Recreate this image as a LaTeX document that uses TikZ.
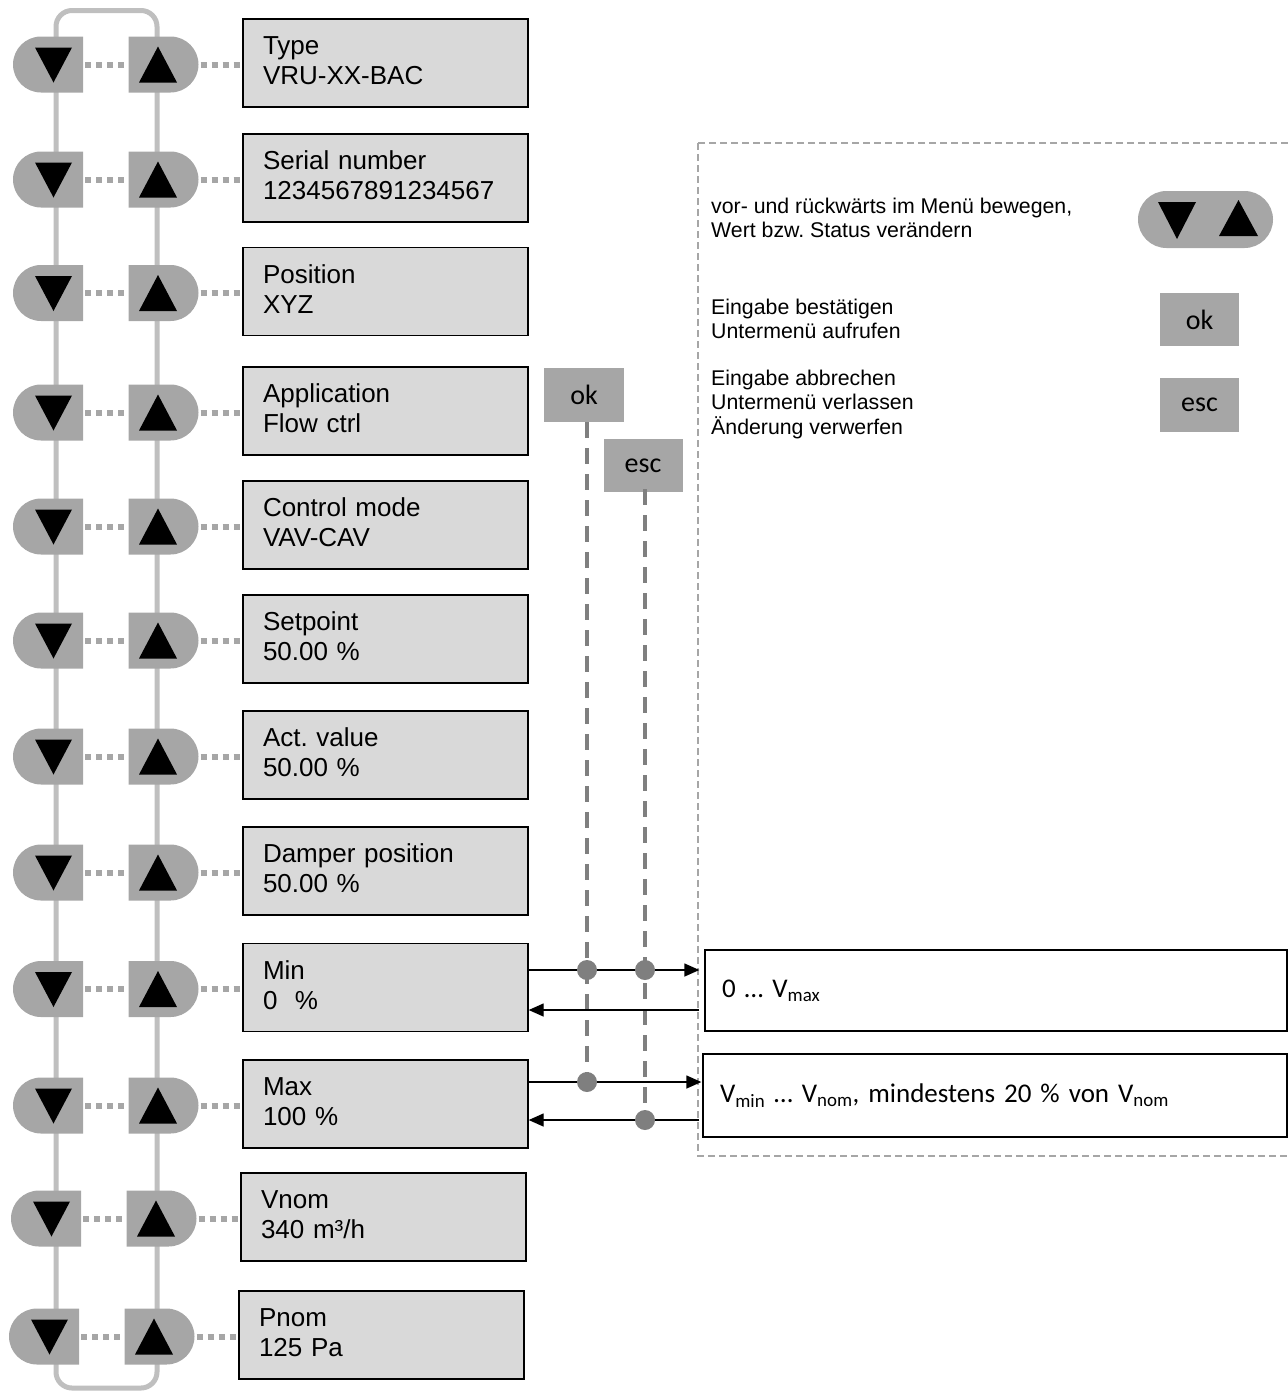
\documentclass[tikz,border=0pt]{standalone}
\usepackage{fontspec}
\setmainfont{Liberation Sans}
\newfontfamily\calib{Carlito}
\usetikzlibrary{shapes.misc,arrows.meta,calc}
\definecolor{btngray}{HTML}{A6A6A6}
\definecolor{boxgray}{HTML}{D9D9D9}
\definecolor{loopgray}{HTML}{BFBFBF}
\definecolor{midgray}{HTML}{7F7F7F}
\frenchspacing
\begin{document}
\begin{tikzpicture}[x=1pt,y=-1pt,
  btnL/.style={rounded rectangle, rounded rectangle right arc=none, fill=btngray,
    minimum width=70pt, minimum height=56pt, inner sep=0pt},
  btnR/.style={rounded rectangle, rounded rectangle left arc=none, fill=btngray,
    minimum width=70pt, minimum height=56pt, inner sep=0pt},
  pill/.style={rounded rectangle, fill=btngray, minimum width=135pt, minimum height=57pt, inner sep=0pt},
  menubox/.style={draw=black, line width=1.3pt, fill=boxgray, minimum width=285pt,
    minimum height=88pt, text width=245pt, inner xsep=20pt, inner ysep=0pt, align=left,
    font=\fontsize{26}{30}\selectfont},
  keybox/.style={fill=btngray, inner sep=0pt, font=\calib\fontsize{28}{32}\selectfont},
  dotline/.style={btngray, line width=6pt, dash pattern=on 6pt off 5pt, shorten <=2pt, shorten >=2pt},
  loopline/.style={loopgray, line width=5pt, rounded corners=16pt},
  legendline/.style={btngray, line width=2pt, dash pattern=on 7pt off 4pt},
  keyline/.style={midgray, line width=4pt, dash pattern=on 16pt off 10pt},
  arr/.style={line width=1.3pt, -{Triangle[length=15pt,width=13pt]}},
  dotc/.style={circle, fill=midgray, minimum size=20pt, inner sep=0pt},
  valbox/.style={draw=black, line width=1.3pt, fill=white, inner xsep=17pt, inner ysep=0pt,
    align=left, font=\calib\fontsize{27}{30}\selectfont},
  legtext/.style={align=left, inner sep=0pt, font=\fontsize{21.3}{24.5}\selectfont}
]
\useasboundingbox (0,0) rectangle (1288,1393);

% loop behind the buttons
\draw[loopline] (56,10.5) rectangle (157,1388);

% menu rows
\foreach \yy/\dx/\la/\lb [count=\i] in {
  63/0/Type/VRU-XX-BAC,
  178/0/Serial number/1234567891234567,
  291.5/0/Position/XYZ,
  411/0/Application/Flow ctrl,
  525/0/Control mode/VAV-CAV,
  639/0/Setpoint/50.00 \%,
  755/0/Act. value/50.00 \%,
  871/0/Damper position/50.00 \%,
  987.5/0/Min/0\ \ \%,
  1104/0/Max/100 \%,
  1217/-2/Vnom/{340 m³/h},
  1335/-4/Pnom/125 Pa}
{
  \node[btnL] (dn\i) at (48+\dx,\yy+1.5) {};
  \node[btnR] (up\i) at (163.5+\dx,\yy+1.5) {};
  \node[menubox] (b\i) at (385.5+\dx,\yy) {\la\\\lb\rule[-5pt]{0pt}{5pt}};
  \fill[shift={(dn\i.center)}] (-13,-17) -- (24,-17) -- (5.5,18) -- cycle;
  \fill[shift={(up\i.center)}] (-24.5,18) -- (13.5,18) -- (-5.5,-18) -- cycle;
  \draw[dotline] (dn\i.east) -- (up\i.west);
  \draw[dotline] (up\i.east) -- (b\i.west |- up\i.east);
}

% legend frame
\draw[legendline] (698,143) rectangle (1300,1156);

% legend entries
\node[legtext, anchor=west] (t1) at (711,218) {vor- und rückwärts im Menü bewegen,\\Wert bzw. Status verändern};
\node[legtext, anchor=west] (t2) at (711,319) {Eingabe bestätigen\\Untermenü aufrufen};
\node[legtext, anchor=west] (t3) at (711,404) {Eingabe abbrechen\\Untermenü verlassen\\Änderung verwerfen};
\node[pill] (lp) at (1205.5,219.5) {};
\fill[shift={(lp.center)}] (-47.5,-17.5) -- (-9.5,-17.5) -- (-28.5,19.5) -- cycle;
\fill[shift={(lp.center)}] (13.5,16.5) -- (52.5,16.5) -- (33,-19.5) -- cycle;
\node[keybox, minimum width=79pt, minimum height=53pt] (lok) at (1199.5,319.5) {ok};
\node[keybox, minimum width=79pt, minimum height=54pt] (lesc) at (1199.5,405) {esc};

% ok / esc keys on the diagram
\node[keybox, minimum width=80pt, minimum height=54pt] (okb) at (584,395) {ok};
\node[keybox, minimum width=79pt, minimum height=53pt] (escb) at (643,465.5) {esc};

% value boxes
\node[valbox, minimum width=582pt, minimum height=81pt, text width=548pt] (r1) at (996,990.5) {0 … V\textsubscript{max}};
\node[valbox, minimum width=584pt, minimum height=83pt, text width=550pt] (r2) at (995,1095.5) {V\textsubscript{min} … V\textsubscript{nom}, mindestens 20 \% von V\textsubscript{nom}};

% junction coordinates
\coordinate (cmo) at (587,970);
\coordinate (cme) at (645,970);
\coordinate (cxo) at (587,1082);
\coordinate (cxe) at (645,1120);
\coordinate (ymn) at (0,1010);

% dashed key lines
\draw[keyline] (okb.south -| cxo) -- (cxo);
\draw[keyline] ([yshift=3pt]escb.south -| cxe) -- (cxe);

% arrows
\draw[arr] (b9.east |- cmo) -- ([xshift=-5pt]r1.west |- cmo);
\draw[arr] ([xshift=-5pt]r1.west |- ymn) -- (b9.east |- ymn);
\draw[arr] (b10.east |- cxo) -- ([xshift=-1pt]r2.west |- cxo);
\draw[arr] ([xshift=-3pt]r2.west |- cxe) -- (b10.east |- cxe);

% junction dots
\node[dotc] (k1) at (cmo) {};
\node[dotc] (k2) at (cme) {};
\node[dotc] (k3) at (cxo) {};
\node[dotc] (k4) at (cxe) {};
\end{tikzpicture}
\end{document}
